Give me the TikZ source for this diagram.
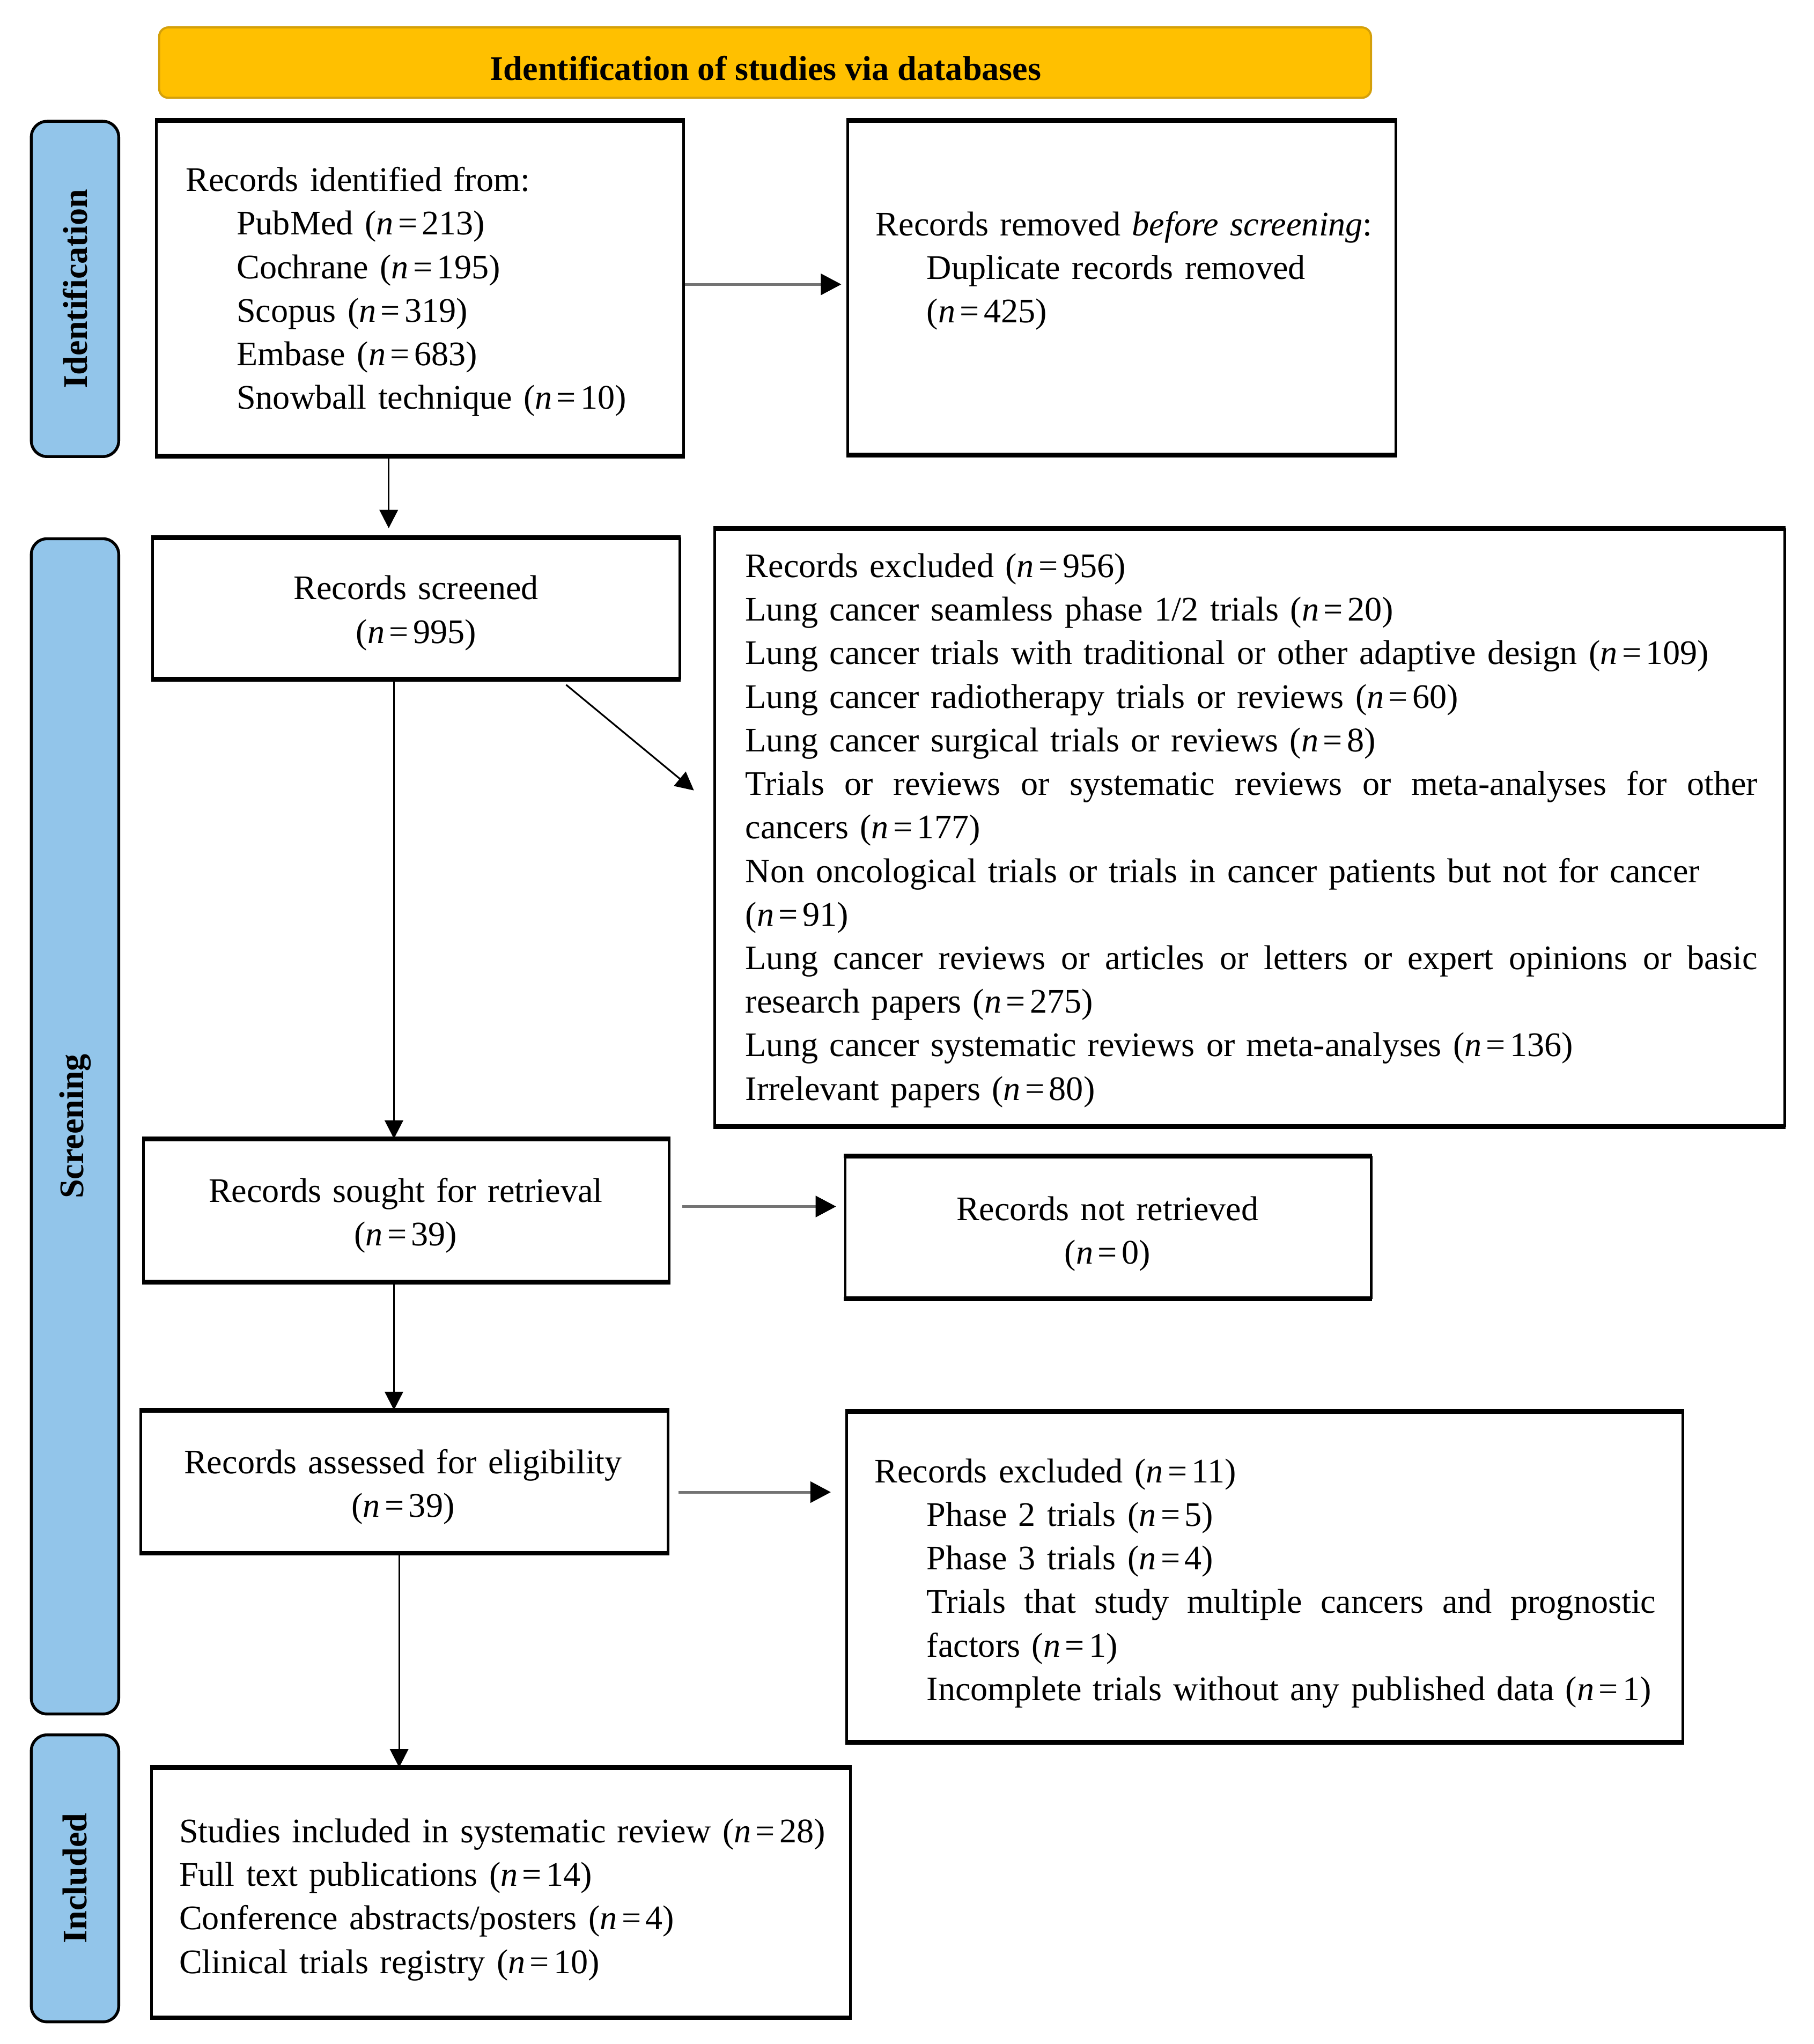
\documentclass[tikz,border=0pt]{standalone}
\usepackage{fontspec}
\setmainfont{Liberation Serif}
\usetikzlibrary{arrows.meta,calc}
\definecolor{hdrfill}{RGB}{255,192,0}
\definecolor{hdrdraw}{RGB}{212,160,10}
\definecolor{sidefill}{RGB}{146,197,234}
\begin{document}
\begin{tikzpicture}[x=0.5pt,y=-0.5pt,scale=0.9955,transform shape,
  txt/.style={font=\fontsize{13.2}{16.7}\selectfont, inner sep=0pt},
  ltxt/.style={txt, align=left, anchor=base west, yshift=-0.8pt},
  ctxt/.style={txt, align=center, anchor=base, text width=200pt, yshift=-0.8pt},
  pbox/.style={draw=black, line width=1pt, inner sep=0pt},
  side/.style={draw=black, line width=1.1pt, fill=sidefill, rounded corners=6pt, inner sep=0pt},
  sidetxt/.style={font=\fontsize{13.2}{14}\selectfont\bfseries, inner sep=0pt, rotate=90},
  varrow/.style={draw=black, line width=0.65pt, -{Triangle[length=7pt,width=7pt]}},
  harrow/.style={draw=black!55, line width=1pt, -{Triangle[length=7.8pt,width=8pt,color=black]}},
]
\useasboundingbox (0,0) rectangle (1390.3,1567.0);
\newcommand{\nn}[1]{\textit{n}\hspace{0.13em}=\hspace{0.13em}#1}
% header
\node[draw=hdrdraw, line width=0.8pt, fill=hdrfill, rounded corners=3.5pt, minimum width=464.5pt, minimum height=27pt, inner sep=0pt] (hdr) at (586.5,48) {};
\node[txt, font=\fontsize{13.2}{14}\selectfont\bfseries, anchor=base] (hdrt) at (587,61.5) {Identification of studies via databases};
% side labels
\node[side, minimum width=33.5pt, minimum height=128.5pt] (idl) at (57.5,221.5) {};
\node[sidetxt] (idlt) at (idl.center) {Identification};
\node[side, minimum width=33.5pt, minimum height=450.5pt] (scl) at (57.5,863.5) {};
\node[sidetxt] (sclt) at (scl.center) {Screening};
\node[side, minimum width=33.5pt, minimum height=110pt] (inl) at (57.5,1440) {};
\node[sidetxt] (inlt) at (inl.center) {Included};
% boxes
\node[pbox, minimum width=202pt, minimum height=128pt] (b1) at (322,221) {};
\node[pbox, minimum width=210pt, minimum height=127.5pt] (b2) at (860,220.5) {};
\node[pbox, minimum width=202pt, minimum height=53.5pt] (b3) at (319,466.5) {};
\node[pbox, minimum width=410pt, minimum height=228.5pt] (b4) at (958,634.5) {};
\node[pbox, minimum width=201.5pt, minimum height=54pt] (b5) at (311.5,928) {};
\node[pbox, minimum width=201.5pt, minimum height=54pt] (b6) at (849.5,941) {};
\node[pbox, minimum width=202pt, minimum height=54pt] (b7) at (310,1136) {};
\node[pbox, minimum width=320.5pt, minimum height=126pt] (b8) at (969.5,1209) {};
\node[pbox, minimum width=268pt, minimum height=95pt] (b9) at (384,1451) {};
\foreach \b in {b1,b2,b3,b4,b5,b6,b7,b8,b9}{
  \draw[line width=1.6pt] (\b.north west) -- (\b.north east) (\b.south west) -- (\b.south east);
}
% texts
\node[ltxt, text width=190pt] (t1) at (142,145) {Records identified from:\\
\hspace*{19.5pt}PubMed (\nn{213})\\
\hspace*{19.5pt}Cochrane (\nn{195})\\
\hspace*{19.5pt}Scopus (\nn{319})\\
\hspace*{19.5pt}Embase (\nn{683})\\
\hspace*{19.5pt}Snowball technique (\nn{10})};
\node[ltxt, text width=200pt] (t2) at (671,179) {Records removed \textit{before screening}:\\
\hspace*{19.5pt}Duplicate records removed\\
\hspace*{19.5pt}(\nn{425})};
\node[ctxt] (t3) at (319,458) {Records screened\\(\nn{995})};
\node[ltxt, text width=390pt] (t4) at (571,441) {Records excluded (\nn{956})\\
Lung cancer seamless phase 1/2 trials (\nn{20})\\
Lung cancer trials with traditional or other adaptive design (\nn{109})\\
Lung cancer radiotherapy trials or reviews (\nn{60})\\
Lung cancer surgical trials or reviews (\nn{8})\\
\leavevmode\hbox to 388pt{Trials\hfill or\hfill reviews\hfill or\hfill systematic\hfill reviews\hfill or\hfill meta-analyses\hfill for\hfill other}\\
cancers (\nn{177})\\
Non oncological trials or trials in cancer patients but not for cancer\\
(\nn{91})\\
\leavevmode\hbox to 388pt{Lung\hfill cancer\hfill reviews\hfill or\hfill articles\hfill or\hfill letters\hfill or\hfill expert\hfill opinions\hfill or\hfill basic}\\
research papers (\nn{275})\\
Lung cancer systematic reviews or meta-analyses (\nn{136})\\
Irrelevant papers (\nn{80})};
\node[ctxt] (t5) at (311,920) {Records sought for retrieval\\(\nn{39})};
\node[ctxt] (t6) at (849,934) {Records not retrieved\\(\nn{0})};
\node[ctxt] (t7) at (309,1128) {Records assessed for eligibility\\(\nn{39})};
\node[ltxt, text width=310pt] (t8) at (670,1135) {Records excluded (\nn{11})\\
\hspace*{20pt}Phase 2 trials (\nn{5})\\
\hspace*{20pt}Phase 3 trials (\nn{4})\\
\hspace*{20pt}\hbox to 279.5pt{Trials\hfill that\hfill study\hfill multiple\hfill cancers\hfill and\hfill prognostic}\\
\hspace*{20pt}factors (\nn{1})\\
\hspace*{20pt}Incomplete trials without any published data (\nn{1})};
\node[ltxt, text width=260pt] (t9) at (137,1411) {Studies included in systematic review (\nn{28})\\
Full text publications (\nn{14})\\
Conference abstracts/posters (\nn{4})\\
Clinical trials registry (\nn{10})};
% connector anchor points
\coordinate (c1) at ($(b1.north east)+(0,126)$);
\coordinate (c2) at ($(b1.south west)+(179,0)$);
\coordinate (c3) at ($(b3.south west)+(318,4)$);
\coordinate (c3e) at ($(b4.north west)+(-15,201)$);
\coordinate (c4) at ($(b3.south west)+(186,0)$);
\coordinate (c5) at ($(b5.north east)+(0,52)$);
\coordinate (c6) at ($(b5.south west)+(193,0)$);
\coordinate (c7) at ($(b7.north east)+(0,63)$);
\coordinate (c8) at ($(b7.south west)+(199,0)$);
% arrows
\draw[harrow, shorten >=2pt] (c1) -- (c1 -| b2.west);
\draw[varrow, shorten >=3.5pt] (c2) -- (c2 |- b3.north);
\draw[varrow] (c3) -- (c3e);
\draw[varrow] (c4) -- (c4 |- b5.north);
\draw[harrow, shorten <=4.5pt, shorten >=3pt] (c5) -- (c5 -| b6.west);
\draw[varrow] (c6) -- (c6 |- b7.north);
\draw[harrow, shorten <=3.5pt, shorten >=5.5pt] (c7) -- (c7 -| b8.west);
\draw[varrow] (c8) -- (c8 |- b9.north);
\end{tikzpicture}
\end{document}
